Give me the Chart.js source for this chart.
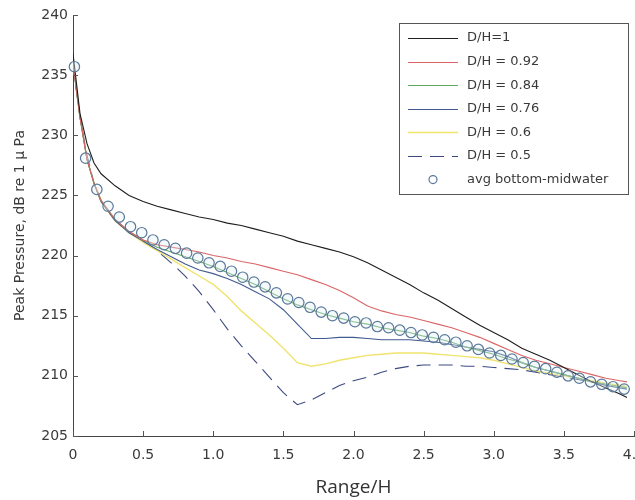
<!DOCTYPE html>
<html>
<head>
<meta charset="utf-8">
<script src="https://cdn.jsdelivr.net/npm/chart.js@4.4.1/dist/chart.umd.min.js"></script>
<style>
  html, body { margin: 0; padding: 0; background: #fff; overflow: hidden; width: 635px; height: 500px; }
  #wrap { width: 660px; height: 500px; }
</style>
</head>
<body>
<div id="wrap"><canvas id="c" width="660" height="500"></canvas></div>
<script>
// ---- data ----
const xTicks = [0, 0.5, 1, 1.5, 2, 2.5, 3, 3.5, 4];
const yTicks = [205, 210, 215, 220, 225, 230, 235, 240];

const rangeGrid = [0, 0.05, 0.1, 0.15, 0.2, 0.3, 0.4, 0.5, 0.6, 0.7, 0.8, 0.9, 1.0, 1.1, 1.2, 1.3, 1.4, 1.5, 1.6, 1.7, 1.8, 1.9, 2.0, 2.1, 2.2, 2.3, 2.4, 2.5, 2.6, 2.7, 2.8, 2.9, 3.0, 3.1, 3.2, 3.3, 3.4, 3.5, 3.6, 3.7, 3.8, 3.9, 3.95];

const dh100 = [236.8, 231.8, 229.3, 227.7, 226.8, 225.8, 225.0, 224.5, 224.1, 223.8, 223.5, 223.2, 223.0, 222.7, 222.5, 222.2, 221.9, 221.6, 221.2, 220.9, 220.6, 220.3, 219.9, 219.4, 218.8, 218.2, 217.6, 216.9, 216.3, 215.6, 214.9, 214.2, 213.6, 213.0, 212.3, 211.8, 211.3, 210.7, 210.1, 209.5, 209.0, 208.5, 208.2];
const dh092 = [236.0, 231.5, 228.0, 226.0, 224.6, 223.0, 222.0, 221.3, 220.9, 220.7, 220.5, 220.3, 220.0, 219.8, 219.5, 219.3, 219.0, 218.7, 218.4, 218.0, 217.6, 217.1, 216.5, 215.8, 215.4, 215.1, 214.9, 214.6, 214.3, 214.0, 213.6, 213.2, 212.7, 212.2, 211.7, 211.3, 211.0, 210.7, 210.4, 210.1, 209.8, 209.6, 209.5];
const dh084 = [236.0, 231.5, 228.0, 226.0, 224.6, 223.0, 222.0, 221.3, 220.7, 220.3, 219.9, 219.5, 219.1, 218.6, 218.1, 217.6, 217.0, 216.4, 215.9, 215.5, 215.1, 214.8, 214.5, 214.3, 214.0, 213.8, 213.6, 213.3, 213.1, 212.8, 212.4, 212.1, 211.8, 211.4, 211.1, 210.7, 210.4, 210.1, 209.8, 209.5, 209.3, 209.1, 209.0];
const dh076 = [236.0, 231.5, 228.0, 226.0, 224.5, 222.9, 221.9, 221.2, 220.5, 219.9, 219.3, 218.8, 218.5, 218.1, 217.6, 217.0, 216.4, 215.5, 214.3, 213.1, 213.1, 213.2, 213.2, 213.1, 213.0, 213.0, 213.0, 212.9, 212.8, 212.6, 212.4, 212.2, 212.0, 211.6, 211.1, 210.7, 210.4, 210.1, 209.8, 209.5, 209.2, 209.0, 208.9];
const dh060 = [236.0, 231.5, 228.0, 226.0, 224.5, 222.9, 221.9, 221.1, 220.4, 219.7, 219.0, 218.3, 217.6, 216.6, 215.4, 214.4, 213.4, 212.3, 211.1, 210.8, 211.0, 211.3, 211.5, 211.7, 211.8, 211.9, 211.9, 211.9, 211.8, 211.7, 211.6, 211.5, 211.3, 211.0, 210.7, 210.4, 210.2, 210.0, 209.8, 209.6, 209.4, 209.2, 209.1];
const dh050 = [235.8, 231.5, 228.3, 226.0, 224.5, 222.9, 221.9, 221.2, 220.4, 219.4, 218.3, 217.0, 215.5, 213.9, 212.5, 211.2, 209.9, 208.6, 207.6, 208.0, 208.6, 209.2, 209.6, 209.9, 210.3, 210.6, 210.8, 210.9, 210.9, 210.9, 210.8, 210.8, 210.7, 210.6, 210.5, 210.3, 210.1, 209.9, 209.7, 209.5, 209.3, 209.2, 209.1];

const avgRange = [0.01, 0.09, 0.17, 0.25, 0.33, 0.41, 0.49, 0.57, 0.65, 0.73, 0.81, 0.89, 0.97, 1.05, 1.13, 1.21, 1.29, 1.37, 1.45, 1.53, 1.61, 1.69, 1.77, 1.85, 1.93, 2.01, 2.09, 2.17, 2.25, 2.33, 2.41, 2.49, 2.57, 2.65, 2.73, 2.81, 2.89, 2.97, 3.05, 3.13, 3.21, 3.29, 3.37, 3.45, 3.53, 3.61, 3.69, 3.77, 3.85, 3.93];
const avgPeak = [235.7, 228.1, 225.5, 224.1, 223.2, 222.4, 221.9, 221.3, 220.9, 220.6, 220.2, 219.8, 219.4, 219.1, 218.7, 218.2, 217.8, 217.4, 216.9, 216.4, 216.1, 215.7, 215.3, 215.0, 214.8, 214.5, 214.4, 214.1, 214.0, 213.8, 213.6, 213.4, 213.2, 213.0, 212.8, 212.5, 212.2, 211.9, 211.7, 211.4, 211.1, 210.8, 210.6, 210.3, 210.0, 209.8, 209.5, 209.3, 209.1, 208.9];

const seriesNames = ['D/H=1', 'D/H = 0.92', 'D/H = 0.84', 'D/H = 0.76', 'D/H = 0.6', 'D/H = 0.5', 'avg bottom-midwater'];

// ---- build datasets ----
const pts = (xs, ys) => xs.map((x, i) => ({ x: x, y: ys[i] }));
const lineDs = (label, ys, color, extra) => Object.assign({
  label: label, data: pts(rangeGrid, ys), showLine: true, borderColor: color,
  backgroundColor: color, borderWidth: 1.1, pointRadius: 0, pointHoverRadius: 0, tension: 0, order: 1
}, extra || {});

const datasets = [
  lineDs(seriesNames[0], dh100, '#1e1e1e'),
  lineDs(seriesNames[1], dh092, '#dc6466'),
  lineDs(seriesNames[2], dh084, '#5fa85f'),
  lineDs(seriesNames[3], dh076, '#415a90'),
  lineDs(seriesNames[4], dh060, '#f0e36e', { borderWidth: 1.4 }),
  lineDs(seriesNames[5], dh050, '#3d4a82', { borderDash: [14, 8] }),
  {
    label: seriesNames[6], data: pts(avgRange, avgPeak), showLine: false,
    borderColor: '#5a7899', backgroundColor: 'rgba(225,240,245,0.35)', borderWidth: 1.2,
    pointRadius: 5.2, pointHoverRadius: 5.2, pointStyle: 'circle', order: 0, clip: false
  }
];

// ---- plugins: inward ticks + in-plot legend ----
const inwardTicks = {
  id: 'inwardTicks',
  afterDatasetsDraw(chart) {
    const ctx = chart.ctx, xs = chart.scales.x, ys = chart.scales.y, a = chart.chartArea;
    ctx.save();
    ctx.strokeStyle = '#555';
    ctx.lineWidth = 1;
    ctx.beginPath();
    xs.ticks.forEach(t => { const p = Math.round(xs.getPixelForValue(t.value)) + 0.5; ctx.moveTo(p, a.bottom); ctx.lineTo(p, a.bottom - 5); });
    ys.ticks.forEach(t => { const p = Math.round(ys.getPixelForValue(t.value)) + 0.5; ctx.moveTo(a.left, p); ctx.lineTo(a.left + 5, p); });
    ctx.stroke();
    ctx.restore();
  }
};

const boxLegend = {
  id: 'boxLegend',
  afterDraw(chart) {
    const ctx = chart.ctx;
    const bx = 399.5, by = 23.5, bw = 229, bh = 171;
    ctx.save();
    ctx.fillStyle = '#fff';
    ctx.fillRect(bx, by, bw, bh);
    ctx.strokeStyle = '#555';
    ctx.lineWidth = 1;
    ctx.strokeRect(bx, by, bw, bh);
    ctx.font = '13px "DejaVu Sans"';
    ctx.textBaseline = 'middle';
    ctx.textAlign = 'left';
    chart.data.datasets.forEach((ds, i) => {
      const y = 38 + i * 23.6;
      if (ds.showLine) {
        ctx.strokeStyle = ds.borderColor;
        ctx.lineWidth = ds.borderWidth;
        ctx.setLineDash(ds.borderDash || []);
        ctx.beginPath();
        ctx.moveTo(408, Math.round(y) + 0.5);
        ctx.lineTo(458, Math.round(y) + 0.5);
        ctx.stroke();
        ctx.setLineDash([]);
      } else {
        ctx.strokeStyle = ds.borderColor;
        ctx.lineWidth = ds.borderWidth;
        ctx.beginPath();
        ctx.arc(433, y, 4, 0, Math.PI * 2);
        ctx.stroke();
      }
      ctx.fillStyle = '#3a3a3a';
      ctx.fillText(ds.label, 467, y);
    });
    ctx.restore();
  }
};

new Chart(document.getElementById('c'), {
  type: 'scatter',
  data: { datasets: datasets },
  options: {
    responsive: false,
    maintainAspectRatio: false,
    animation: false,
    events: [],
    layout: { padding: { left: 0, top: 15, right: 26, bottom: 0 } },
    plugins: { legend: { display: false }, tooltip: { enabled: false } },
    scales: {
      x: {
        type: 'linear', min: 0, max: 4,
        afterBuildTicks: s => { s.ticks = xTicks.map(v => ({ value: v })); },
        afterFit: s => { s.height = 64; },
        grid: { display: false, drawTicks: false },
        border: { display: true, color: '#444', width: 1 },
        ticks: { padding: 11, color: '#3a3a3a', font: { family: 'DejaVu Sans', size: 14 }, maxRotation: 0, autoSkip: false },
        title: { display: true, text: 'Range/H', color: '#333', font: { family: 'Open Sans', size: 19 }, padding: { top: 0, bottom: 1 } }
      },
      y: {
        type: 'linear', min: 205, max: 240,
        afterBuildTicks: s => { s.ticks = yTicks.map(v => ({ value: v })); },
        afterFit: s => { s.width = 73; },
        grid: { display: false, drawTicks: false },
        border: { display: true, color: '#444', width: 1 },
        ticks: { padding: 5, color: '#3a3a3a', font: { family: 'DejaVu Sans', size: 14 }, autoSkip: false },
        title: { display: true, text: 'Peak Pressure, dB re 1 μ Pa', color: '#3a3a3a', font: { family: 'DejaVu Sans', size: 14 }, padding: { top: 12, bottom: 0 } }
      }
    }
  },
  plugins: [inwardTicks, boxLegend]
});
</script>
</body>
</html>
